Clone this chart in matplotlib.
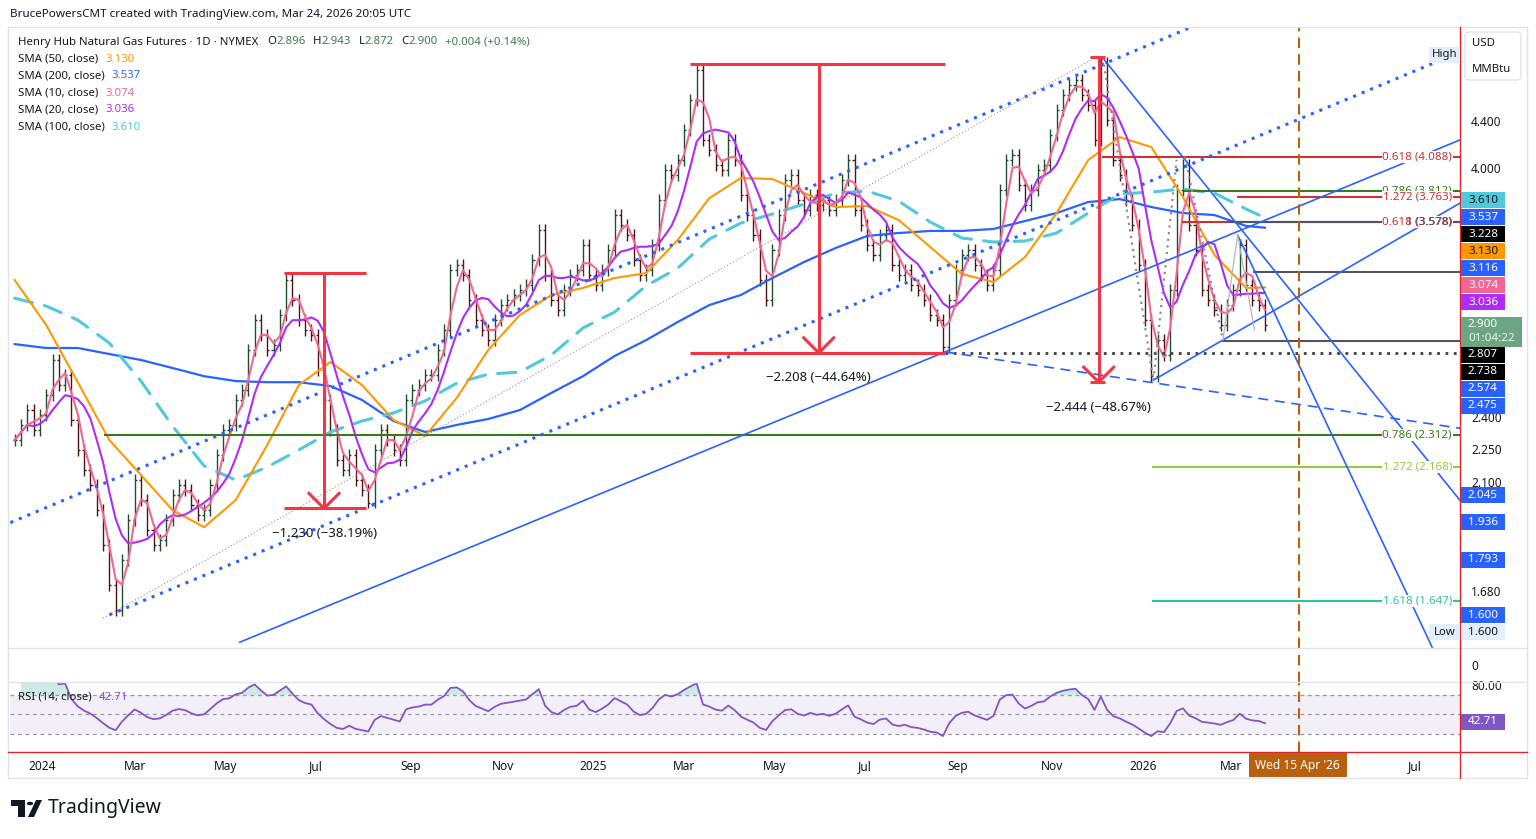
import numpy as np
import pandas as pd
import matplotlib
matplotlib.use('Agg')
import matplotlib.pyplot as plt
from matplotlib.patches import Rectangle, Circle, Polygon, FancyBboxPatch
from matplotlib.lines import Line2D
from matplotlib.ticker import FixedLocator, NullLocator, FixedFormatter

W, H, DPI = 1536, 839, 100
plt.rcParams['font.family'] = ['Noto Sans', 'DejaVu Sans']

# ======================= DATA =======================
END_DATE = '2026-03-24'      # last bar
STEP_DAYS = 3                # business days between sampled closes
close = [
    2.290, 2.362, 2.435, 2.337, 2.411, 2.511, 2.698, 2.563, 2.616, 2.386,
    2.244, 2.154, 2.089, 1.984, 1.847, 1.702, 1.617, 1.791, 1.944, 2.110,
    2.025, 1.905, 1.847, 1.866, 1.944, 2.046, 2.089, 2.067, 2.005, 1.964,
    1.984, 2.089, 2.221, 2.337, 2.362, 2.486, 2.537, 2.754, 2.928, 2.839,
    2.754, 2.782, 2.958, 3.178, 3.050, 2.928, 2.869, 2.839, 2.643, 2.486,
    2.337, 2.198, 2.154, 2.221, 2.110, 2.067, 2.015, 2.244, 2.337, 2.290,
    2.244, 2.198, 2.486, 2.537, 2.563, 2.616, 2.616, 2.754, 2.869, 3.243,
    3.277, 3.210, 3.050, 2.928, 2.869, 2.810, 2.928, 3.019, 3.050, 3.082,
    3.114, 3.146, 3.311, 3.521, 3.210, 3.050, 2.988, 3.114, 3.210, 3.243,
    3.414, 3.210, 3.146, 3.243, 3.379, 3.630, 3.557, 3.485, 3.311, 3.210,
    3.243, 3.414, 3.743, 3.981, 3.940, 4.063, 4.320, 4.594, 4.890, 4.233,
    4.147, 4.022, 3.981, 4.233, 4.063, 3.782, 3.630, 3.485, 3.178, 3.050,
    3.379, 3.630, 3.900, 3.940, 3.743, 3.668, 3.782, 3.705, 3.743, 3.668,
    3.743, 3.900, 4.063, 3.668, 3.557, 3.414, 3.345, 3.485, 3.521, 3.277,
    3.210, 3.243, 3.146, 3.114, 3.050, 2.958, 2.928, 2.770, 3.050, 3.243,
    3.345, 3.379, 3.277, 3.210, 3.146, 3.243, 3.821, 4.063, 4.105, 3.860,
    3.705, 3.821, 3.981, 4.022, 4.276, 4.501, 4.641, 4.737, 4.786, 4.641,
    4.547, 4.233, 4.960, 4.410, 4.063, 3.940, 3.743, 3.557, 3.277, 2.928,
    2.610, 2.810, 2.726, 3.114, 3.821, 4.022, 3.557, 3.379, 3.114, 3.050,
    2.988, 2.898, 3.019, 3.114, 3.414, 3.146, 3.050, 3.019, 2.900,
]
SMA_EVERY = 5   # slow SMAs read every 5th sample (+ last)
sma50 = [3.178, 2.898, 2.578, 2.290, 2.132, 1.984, 1.916, 2.025, 2.267, 2.563,
         2.687, 2.563, 2.386, 2.309, 2.496, 2.754, 2.958, 3.082, 3.127, 3.191,
         3.223, 3.449, 3.758, 3.916, 3.908, 3.798, 3.690, 3.698, 3.593, 3.400,
         3.217, 3.165, 3.331, 3.645, 4.063, 4.258, 4.172, 3.766, 3.345, 3.127, 3.130]
sma100 = [3.062, 3.013, 2.928, 2.793, 2.584, 2.357, 2.172, 2.110, 2.167, 2.244,
          2.328, 2.381, 2.421, 2.481, 2.573, 2.621, 2.632, 2.726, 2.881, 2.976,
          3.140, 3.256, 3.456, 3.571, 3.638, 3.712, 3.797, 3.813, 3.735, 3.578,
          3.463, 3.435, 3.442, 3.499, 3.645, 3.790, 3.805, 3.829, 3.797, 3.675, 3.610]
sma200 = [2.787, 2.765, 2.765, 2.731, 2.698, 2.654, 2.610, 2.584, 2.578, 2.578,
          2.558, 2.486, 2.381, 2.328, 2.362, 2.391, 2.435, 2.522, 2.610, 2.720,
          2.810, 2.916, 3.019, 3.082, 3.191, 3.297, 3.393, 3.478, 3.499, 3.514,
          3.514, 3.528, 3.586, 3.645, 3.728, 3.751, 3.690, 3.645, 3.630, 3.550, 3.537]

legend_title = 'Henry Hub Natural Gas Futures · 1D · NYMEX'
ohlc_letters = ['O', 'H', 'L', 'C']
ohlc_values = ['2.896', '2.943', '2.872', '2.900']
change_text = '+0.004 (+0.14%)'
sma_lengths = [50, 200, 10, 20, 100]
sma_values = [3.130, 3.537, 3.074, 3.036, 3.610]
rsi_value = 42.71
rsi_len = 14
countdown = '01:04:22'
header_text = 'BrucePowersCMT created with TradingView.com, Mar 24, 2026 20:05 UTC'

month_ticks = ['2024-01-01', '2024-03-01', '2024-05-01', '2024-07-01', '2024-09-01', '2024-11-01',
               '2025-01-01', '2025-03-01', '2025-05-01', '2025-07-01', '2025-09-01', '2025-11-01',
               '2026-01-01', '2026-03-01', '2026-07-01']
month_labels = ['2024', 'Mar', 'May', 'Jul', 'Sep', 'Nov', '2025', 'Mar', 'May', 'Jul', 'Sep', 'Nov',
                '2026', 'Mar', 'Jul']
price_ticks = [4.4, 4.0, 2.4, 2.25, 2.1, 1.68]
marker_date = '2026-04-15'
marker_label = "Wed 15 Apr '26"

# drawing tools: (date1, price1, date2, price2, extend_right, style)
trend_lines = [
    ('2024-05-10', 1.514, '2025-08-22', 2.743, True, 'solid'),
    ('2026-01-08', 2.589, '2026-03-24', 2.954, True, 'solid'),
    ('2025-12-05', 5.006, '2026-03-24', 3.319, True, 'solid'),
    ('2026-03-05', 3.485, '2026-07-13', 1.504, True, 'solid'),
    ('2023-12-11', 1.934, '2026-02-02', 5.324, True, 'dots'),
    ('2024-02-14', 1.601, '2026-07-10', 4.936, True, 'dots'),
    ('2025-08-22', 2.743, '2026-07-30', 2.347, True, 'dashed'),
    ('2024-02-09', 1.590, '2025-12-01', 5.007, False, 'thin'),
    ('2025-12-05', 5.006, '2026-01-08', 2.589, False, 'fibdots'),
    ('2026-01-08', 2.589, '2026-01-23', 4.063, False, 'fibdots'),
    ('2026-01-29', 4.088, '2026-02-24', 2.810, False, 'fibdots'),
    ('2026-02-24', 2.810, '2026-03-05', 3.485, False, 'light'),
    ('2026-03-05', 3.485, '2026-03-17', 2.869, False, 'light'),
]
# horizontal levels: (price, start date, colour key, label)
levels = [
    (4.088, '2025-12-05', 'red', '0.618 (4.088)'),
    (3.812, '2026-01-29', 'green', '0.786 (3.812)'),
    (3.763, '2026-03-05', 'red', '1.272 (3.763)'),
    (3.578, '2026-01-28', 'red', '0.618 (3.578)'),
    (3.578, '2026-02-27', 'gray', '1 (3.578)'),
    (3.228, '2026-03-17', 'gray', None),
    (2.807, '2026-02-24', 'gray', None),
    (2.738, '2025-08-22', 'graydot', None),
    (2.312, '2024-02-12', 'green', '0.786 (2.312)'),
    (2.168, '2026-01-08', 'ygreen', '1.272 (2.168)'),
    (1.647, '2026-01-08', 'teal', '1.618 (1.647)'),
]
# price range tools: (left, middle, right, top price, bottom price, label)
brackets = [
    ('2024-06-10', '2024-07-05', '2024-08-02', 3.221, 1.991, '\u22121.230 (\u221238.19%)'),
    ('2025-03-06', '2025-05-30', '2025-08-22', 4.946, 2.738, '\u22122.208 (\u221244.64%)'),
    ('2025-11-27', '2025-12-03', '2025-12-08', 5.022, 2.578, '\u22122.444 (\u221248.67%)'),
]
# price-scale tags: (value, bg, fg)
tags = [
    (3.610, '#52C8DC', '#131722'), (3.537, '#2962FF', 'white'), (3.228, '#000000', 'white'),
    (3.130, '#FF9800', '#131722'), (3.116, '#2962FF', 'white'), (3.074, '#F06792', 'white'),
    (3.036, '#B02BF8', 'white'), (2.807, '#000000', 'white'), (2.738, '#000000', 'white'),
    (2.574, '#2962FF', 'white'), (2.475, '#2962FF', 'white'), (2.045, '#2962FF', 'white'),
    (1.936, '#2962FF', 'white'), (1.793, '#2962FF', 'white'), (1.600, '#2962FF', 'white'),
    (1.600, '#E3EEFB', '#131722'),
]
high_value = 5.04

# ======================= STYLE =======================
DARK = '#131722'
BLUE = '#2962FF'
ORANGE = '#FF9800'
PINK = '#F06792'
PURPLE = '#B02BF8'
CYAN = '#52C8DC'
RED = '#F23645'
FIB = {'red': '#CC3030', 'green': '#3A7A1E', 'gray': '#505460', 'graydot': '#3C3F48',
       'ygreen': '#96C93D', 'teal': '#2DC49A'}
UP, DN = '#1F4D2E', '#4D1515'
GREEN_TXT = '#3A7D4C'
BROWN = '#B8600F'
RSI_C = '#7E57C2'

X_BASE_PX, PX_PER_BDAY = 42.0, 2.105
PL, PR = 10, 1460
X0 = (PL - X_BASE_PX) / PX_PER_BDAY
X1 = (PR - X_BASE_PX) / PX_PER_BDAY
YLO, YHI = 1.496, 5.324


def bd(d):
    return float(np.busday_count('2024-01-01', d))


def rect_px(x0, y0, x1, y1):
    return [x0 / W, 1 - y1 / H, (x1 - x0) / W, (y1 - y0) / H]


fig = plt.figure(figsize=(W / DPI, H / DPI), dpi=DPI, facecolor='white')
renderer = fig.canvas.get_renderer()


def px_text(x, y, s, **kw):
    kw.setdefault('va', 'center')
    return fig.text(x / W, 1 - y / H, s, **kw)


def px_rect(x0, y0, x1, y1, **kw):
    r = Rectangle((x0 / W, 1 - y1 / H), (x1 - x0) / W, (y1 - y0) / H, transform=fig.transFigure, **kw)
    fig.add_artist(r)
    return r


def px_line(xs, ys, **kw):
    fig.add_artist(Line2D([v / W for v in xs], [1 - v / H for v in ys], transform=fig.transFigure, **kw))


ax = fig.add_axes(rect_px(PL, 28, PR, 648))
axv = fig.add_axes(rect_px(PL, 648, PR, 682))
axr = fig.add_axes(rect_px(PL, 682, PR, 752))
for a in (ax, axv, axr):
    a.set_xlim(X0, X1)
    a.set_facecolor('none')
    for sp in a.spines.values():
        sp.set_visible(False)
    a.tick_params(axis='x', bottom=False, labelbottom=False)

ax.set_yscale('log')
ax.set_ylim(YLO, YHI)
ax.yaxis.set_major_locator(FixedLocator(price_ticks))
ax.yaxis.set_minor_locator(NullLocator())
ax.yaxis.set_major_formatter(FixedFormatter([f'{v:.3f}' for v in price_ticks]))
ax.yaxis.tick_right()
ax.tick_params(axis='y', length=0, pad=8, labelsize=8.5, labelcolor=DARK)

# ---------------- bars ----------------
c = np.array(close)
n = len(c)
xk = bd(END_DATE) - STEP_DAYS * np.arange(n)[::-1]
o = np.r_[c[0], c[:-1]]
WICK = 0.012
hi = np.maximum(o, c) * (1 + WICK)
lo = np.minimum(o, c) / (1 + WICK)
cols = np.where(c >= o, UP, DN)
ax.vlines(xk, lo, hi, colors=cols, lw=1.0, zorder=2)
ax.hlines(o, xk - 1.0, xk, colors=cols, lw=1.0, zorder=2)
ax.hlines(c, xk, xk + 1.0, colors=cols, lw=1.0, zorder=2)

# ---------------- moving averages ----------------
s = pd.Series(c)
sma10 = s.rolling(round(10 / STEP_DAYS), min_periods=1).mean()
sma20 = s.rolling(round(20 / STEP_DAYS), min_periods=1).mean()
idx = np.r_[np.arange(0, n, SMA_EVERY), n - 1]
xs = xk[idx]
ax.plot(xs, sma200, color=BLUE, lw=1.6, zorder=3)
ax.plot(xs, sma100, color=CYAN, lw=2.2, dashes=(6, 4), dash_capstyle='round', zorder=3)
ax.plot(xs, sma50, color=ORANGE, lw=1.5, zorder=3)
ax.plot(xk, sma20, color=PURPLE, lw=1.5, zorder=3)
ax.plot(xk, sma10, color=PINK, lw=1.5, zorder=3)

# ---------------- trend lines ----------------
styles = {
    'solid': dict(color=BLUE, lw=1.2),
    'dots': dict(color=BLUE, lw=2.2, ls=(0, (1, 2))),
    'dashed': dict(color=BLUE, lw=1.2, ls=(0, (6, 4))),
    'thin': dict(color='#8F929B', lw=0.8, ls=(0, (1, 2))),
    'fibdots': dict(color='#8A8D96', lw=1.6, ls=(0, (1, 2))),
    'light': dict(color='#B2B5BE', lw=0.9),
}
for d1, p1, d2, p2, ext, st in trend_lines:
    x1, x2 = bd(d1), bd(d2)
    if ext:
        xe = X1 + 5
        lp = np.log(p1) + (np.log(p2) - np.log(p1)) * (xe - x1) / (x2 - x1)
        ax.plot([x1, xe], [p1, np.exp(lp)], zorder=4, **styles[st])
    else:
        ax.plot([x1, x2], [p1, p2], zorder=4, **styles[st])

# ---------------- horizontal levels ----------------
LBL_X = (1452 - PL) / (PR - PL)
for price, d, ck, lab in levels:
    if ck == 'graydot':
        ax.plot([bd(d), X1 + 5], [price, price], color=FIB[ck], lw=2.0, ls=(0, (1, 2)), zorder=3.5)
    else:
        ax.plot([bd(d), X1 + 5], [price, price], color=FIB[ck], lw=1.5, zorder=3.5)
for price, d, ck, lab in levels:
    if lab:
        bb = dict(facecolor='white', edgecolor='none', pad=0.4) if ck != 'gray' else None
        ax.text(LBL_X, price, lab, transform=ax.get_yaxis_transform(), ha='right', va='center',
                fontsize=8.3, color=FIB[ck], bbox=bb, zorder=6, clip_on=False)

# ---------------- price range brackets ----------------
def to_px(a, xv, yv):
    dx, dy = a.transData.transform((xv, yv))
    return dx, H - dy


def from_px(a, px, py):
    return a.transData.inverted().transform((px, H - py))


for dl, dm, dr, pt, pb, lab in brackets:
    xl, xm, xr = bd(dl), bd(dm), bd(dr)
    kw = dict(color=RED, lw=2.2, zorder=5, solid_capstyle='butt')
    ax.plot([xl, xr], [pt, pt], **kw)
    ax.plot([xl, xr], [pb, pb], **kw)
    ax.plot([xm, xm], [pt, pb], **kw)
    mx, my = to_px(ax, xm, pb)
    a1 = from_px(ax, mx - 15, my - 15)
    a2 = from_px(ax, mx + 15, my - 15)
    ax.plot([a1[0], xm, a2[0]], [a1[1], pb, a2[1]], color=RED, lw=2.2, zorder=5)
    ax.annotate(lab, (xm, pb), xytext=(0, -25), textcoords='offset pixels', ha='center',
                va='center', fontsize=9.5, color=DARK, zorder=6)

# ---------------- vertical date marker ----------------
for a in (ax, axv, axr):
    a.axvline(bd(marker_date), color=BROWN, lw=1.5, ls=(0, (5, 3)), zorder=4)

# ---------------- RSI ----------------
dlt = s.diff()
alpha = 1.0 / (rsi_len * 0.85)   # smoothing adjusted for the 3-day sampled closes
ag = dlt.clip(lower=0).ewm(alpha=alpha, adjust=False).mean()
al = (-dlt).clip(lower=0).ewm(alpha=alpha, adjust=False).mean()
rsi = (100 - 100 / (1 + ag / al)).values
axr.set_ylim(11.5, 83.3)
axr.axhspan(30, 70, color=RSI_C, alpha=0.09, lw=0)
for lvl in (70, 50, 30):
    axr.axhline(lvl, color='#9598A1', lw=0.9, ls=(0, (3, 3)))
axr.plot(xk[1:], rsi[1:], color=RSI_C, lw=1.3, zorder=3)
axr.fill_between(xk[1:], rsi[1:], 70, where=rsi[1:] > 70, color='#089981', alpha=0.2, interpolate=True, lw=0)
axr.fill_between(xk[1:], rsi[1:], 30, where=rsi[1:] < 30, color='#F23645', alpha=0.2, interpolate=True, lw=0)
axr.yaxis.tick_right()
axr.set_yticks([80])
axr.set_yticklabels(['80.00'])
axr.tick_params(axis='y', length=0, pad=8, labelsize=8.5, labelcolor=DARK)
axr.set_xticks([bd(d) for d in month_ticks])
axr.set_xticklabels(month_labels)
axr.tick_params(axis='x', bottom=True, labelbottom=True, length=0, pad=6, labelsize=8.6, labelcolor=DARK)
for t in axr.get_xticklabels():
    if t.get_text().isdigit():
        t.set_fontweight('bold')

axv.set_ylim(-1, 1)
axv.yaxis.tick_right()
axv.set_yticks([0])
axv.set_yticklabels(['0'])
axv.tick_params(axis='y', length=0, pad=8, labelsize=8.5, labelcolor=DARK)

# ---------------- frame & separators ----------------
px_rect(8, 27, 1527, 778, fill=False, edgecolor='#E0E3EB', lw=1.0, zorder=1)
px_line([8, 1527], [648, 648], color='#E0E3EB', lw=1.0)
px_line([8, 1527], [682, 682], color='#E0E3EB', lw=1.0)
px_line([8, 1527], [752, 752], color='#E0262B', lw=1.0, zorder=7)
px_line([1460, 1460], [27, 778], color='#E0262B', lw=1.0, zorder=7)

# ---------------- price-scale tags ----------------
def draw_tag(yc, text, bg, fg, x0=1461, w=44, h=16):
    px_rect(x0, yc - h / 2, x0 + w, yc + h / 2, facecolor=bg, edgecolor='none', zorder=8)
    px_text(x0 + 7, yc, text, color=fg, fontsize=8.4, fontweight='bold', ha='left', zorder=9)


last = c[-1]
y_last = to_px(ax, 0, last)[1]
nat = [(to_px(ax, 0, v)[1], v, bg, fg, i) for i, (v, bg, fg) in enumerate(tags)]
above = sorted([t for t in nat if t[0] < y_last], key=lambda t: -t[0])
below = sorted([t for t in nat if t[0] >= y_last], key=lambda t: (t[0], t[4]))
placed = []
lim = y_last - 22
for yn, v, bg, fg, i in above:
    y = min(yn, lim)
    placed.append((y, v, bg, fg, i))
    lim = y - 17
lim = y_last + 30
for yn, v, bg, fg, i in below:
    y = max(yn, lim)
    placed.append((y, v, bg, fg, i))
    lim = y + 17
for y, v, bg, fg, i in placed:
    draw_tag(y, f'{v:.3f}', bg, fg)
    if i == len(tags) - 1:
        px_rect(1429, y - 8, 1460, y + 8, facecolor=bg, edgecolor='none', zorder=8)
        px_text(1444.5, y, 'Low', color=DARK, fontsize=8.2, ha='center', zorder=9)

# last price with countdown
px_rect(1461, y_last - 8, 1522, y_last + 22, facecolor='#6BA583', edgecolor='none', zorder=8)
px_text(1468, y_last, f'{last:.3f}', color='white', fontsize=8.4, fontweight='bold', ha='left', zorder=9)
px_text(1468, y_last + 14, countdown, color='#E8F3EC', fontsize=8.4, ha='left', zorder=9)

# high label
yh = to_px(ax, 0, high_value)[1]
px_rect(1429, yh - 8, 1460, yh + 8, facecolor='#E3EEFB', edgecolor='none', zorder=8)
px_text(1444.5, yh, 'High', color=DARK, fontsize=8.2, ha='center', zorder=9)

# RSI tag
yr = to_px(axr, 0, rsi_value)[1]
draw_tag(yr, f'{rsi_value:.2f}', RSI_C, 'white')

# unit box
fig.add_artist(FancyBboxPatch((1465 / W, 1 - 80 / H), 56 / W, 48 / H, boxstyle='round,pad=0,rounding_size=0.004',
                              transform=fig.transFigure, facecolor='white', edgecolor='#E0E3EB', lw=1.0, zorder=8))
px_text(1472, 43, 'USD', color=DARK, fontsize=8.2, ha='left', zorder=9)
px_text(1472, 69, 'MMBtu', color=DARK, fontsize=8.2, ha='left', zorder=9)

# date marker label
xm_px = to_px(ax, bd(marker_date), 3)[0]
px_rect(xm_px - 50, 753, xm_px + 48, 777, facecolor=BROWN, edgecolor='none', zorder=8)
px_text(xm_px - 1, 765, marker_label, color='white', fontsize=8.6, ha='center', zorder=9)

# ---------------- legend ----------------
def run(x, y, parts, size=8.2):
    for txt, col, gap in parts:
        t = px_text(x, y, txt, color=col, fontsize=size, ha='left', zorder=9)
        x += t.get_window_extent(renderer).width + gap


parts = [(legend_title, DARK, 9)]
for L, v in zip(ohlc_letters, ohlc_values):
    parts += [(L, DARK, 0.5), (v, GREEN_TXT, 7)]
parts += [(change_text, GREEN_TXT, 0)]
run(18, 42, parts)
sma_cols = {50: ORANGE, 200: BLUE, 10: PINK, 20: PURPLE, 100: CYAN}
for i, (ln, v) in enumerate(zip(sma_lengths, sma_values)):
    run(18, 59 + 17 * i, [(f'SMA ({ln}, close)', DARK, 7), (f'{v:.3f}', sma_cols[ln], 0)])
run(18, 697, [(f'RSI ({rsi_len}, close)', DARK, 7), (f'{rsi_value:.2f}', RSI_C, 0)])

# header
px_text(10, 14, header_text, color=DARK, fontsize=8.4, ha='left')

# footer logo
px_rect(11, 800, 25, 806, facecolor=DARK, edgecolor='none')
px_rect(18, 800, 25, 817, facecolor=DARK, edgecolor='none')
fig.add_artist(Circle((30 / W, 1 - 803.5 / H), 3.2 / W, transform=fig.transFigure, facecolor=DARK, edgecolor='none'))
fig.add_artist(Polygon([(28 / W, 1 - 817 / H), (34 / W, 1 - 817 / H), (42 / W, 1 - 800 / H), (36 / W, 1 - 800 / H)],
                       closed=True, transform=fig.transFigure, facecolor=DARK, edgecolor='none'))
px_text(48, 808, 'TradingView', color=DARK, fontsize=14, fontweight='bold', ha='left')

fig.savefig('out.png', dpi=DPI, facecolor='white')
